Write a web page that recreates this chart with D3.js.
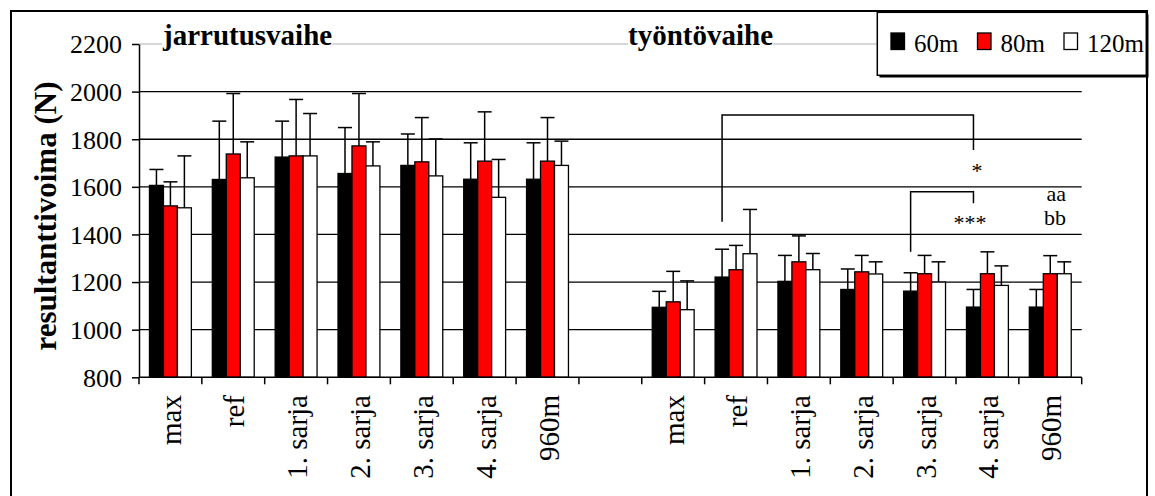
<!DOCTYPE html>
<html>
<head>
<meta charset="utf-8">
<script src="https://cdn.jsdelivr.net/npm/d3@7"></script>
<style>
  html, body { margin: 0; padding: 0; background: #fff; }
  svg { display: block; }
  svg text { font-family: "Liberation Serif", "Times New Roman", serif; }
</style>
</head>
<body>
<svg id="chart" width="1155" height="496"></svg>
<script>
// Categories of each phase
const categories = ["max", "ref", "1. sarja", "2. sarja", "3. sarja", "4. sarja", "960m"];
const phases = ["jarrutusvaihe", "työntövaihe"];
const seriesNames = ["60m", "80m", "120m"];
const seriesColors = ["#000000", "#ff0000", "#ffffff"];

// Means (N) – braking phase
const brake60 = [1606, 1631, 1725, 1656, 1690, 1632, 1632];
const brake80 = [1520, 1738, 1730, 1772, 1705, 1708, 1708];
const brake120 = [1512, 1638, 1730, 1688, 1646, 1556, 1690];
// Standard deviations – braking phase
const brakeSd60 = [67, 245, 151, 193, 132, 153, 153];
const brakeSd80 = [101, 254, 237, 220, 186, 207, 183];
const brakeSd120 = [218, 151, 178, 101, 155, 159, 102];

// Means (N) – push-off phase
const push60 = [1094, 1221, 1203, 1169, 1162, 1095, 1095];
const push80 = [1117, 1252, 1285, 1243, 1235, 1235, 1235];
const push120 = [1084, 1319, 1252, 1234, 1200, 1186, 1235];
// Standard deviations – push-off phase
const pushSd60 = [67, 117, 109, 86, 77, 74, 74];
const pushSd80 = [128, 102, 109, 69, 77, 92, 76];
const pushSd120 = [121, 186, 68, 51, 85, 82, 50];

// Y axis ticks
const yTicks = [800, 1000, 1200, 1400, 1600, 1800, 2000, 2200];
const yTitle = "resultanttivoima (N)";

// Significance markers
const starLabels = ["*", "***"];
const sideNotes = ["aa", "bb"];

(function draw() {
  const FONT = "Liberation Serif, Times New Roman, serif";

  // slot list: 7 categories + empty gap + 7 categories
  const slots = [];
  categories.forEach((c, i) => slots.push({ key: "b" + i, label: c, phase: 0, idx: i }));
  slots.push({ key: "gap", label: "", phase: -1, idx: -1 });
  categories.forEach((c, i) => slots.push({ key: "p" + i, label: c, phase: 1, idx: i }));

  const means = [[brake60, brake80, brake120], [push60, push80, push120]];
  const sds = [[brakeSd60, brakeSd80, brakeSd120], [pushSd60, pushSd80, pushSd120]];

  const rows = [];
  slots.forEach(s => {
    if (s.phase < 0) return;
    seriesNames.forEach((name, k) => {
      rows.push({ slot: s.key, series: name, k,
        value: means[s.phase][k][s.idx], sd: sds[s.phase][k][s.idx] });
    });
  });

  const svg = d3.select("#chart");

  const plotL = 139, plotR = 1081.7, plotT = 44, plotB = 377.3;
  const x = d3.scaleBand().domain(slots.map(s => s.key)).range([plotL, plotR]).padding(0);
  const xs = d3.scaleBand().domain(seriesNames).range([0, x.bandwidth()])
    .paddingInner(0).paddingOuter(0.75);
  const y = d3.scaleLinear().domain([800, 2200]).range([plotB, plotT]);

  // outer frame
  svg.append("rect").attr("x", 11).attr("y", 11).attr("width", 1136).attr("height", 500)
    .attr("fill", "none").attr("stroke", "#000").attr("stroke-width", 2);

  // gridlines
  svg.append("g").selectAll("line").data(yTicks.filter(t => t > 800)).join("line")
    .attr("x1", plotL).attr("x2", plotR)
    .attr("y1", d => y(d)).attr("y2", d => y(d))
    .attr("stroke", d => d === 2200 ? "#b0b0b0" : "#000")
    .attr("stroke-width", d => d === 2200 ? 1 : 1.3);

  // bars
  svg.append("g").selectAll("rect").data(rows).join("rect")
    .attr("x", d => x(d.slot) + xs(d.series))
    .attr("width", xs.bandwidth())
    .attr("y", d => y(d.value))
    .attr("height", d => y(800) - y(d.value))
    .attr("fill", d => seriesColors[d.k])
    .attr("stroke", "#000").attr("stroke-width", 1.3);

  // error bars (upper side)
  const errG = svg.append("g").attr("stroke", "#000").attr("stroke-width", 1.5);
  rows.forEach(d => {
    const cx = x(d.slot) + xs(d.series) + xs.bandwidth() / 2;
    const w = xs.bandwidth() / 2;
    errG.append("line").attr("x1", cx).attr("x2", cx)
      .attr("y1", y(d.value)).attr("y2", y(d.value + d.sd));
    errG.append("line").attr("x1", cx - w).attr("x2", cx + w)
      .attr("y1", y(d.value + d.sd)).attr("y2", y(d.value + d.sd));
  });

  // y axis
  const yAxis = svg.append("g").attr("transform", `translate(${plotL},0)`)
    .call(d3.axisLeft(y).tickValues(yTicks).tickFormat(d3.format("d"))
      .tickSize(7).tickPadding(10).tickSizeOuter(0));
  yAxis.attr("font-family", FONT);
  yAxis.select(".domain").attr("stroke", "#000").attr("stroke-width", 1.5);
  yAxis.selectAll(".tick line").attr("stroke", "#000").attr("stroke-width", 1.5);
  yAxis.selectAll(".tick text").attr("font-size", 26).attr("fill", "#000")
    .attr("font-family", FONT).attr("dy", "0.34em");

  // x axis line and boundary ticks
  const xAxisG = svg.append("g");
  xAxisG.append("line").attr("x1", plotL).attr("x2", plotR)
    .attr("y1", plotB).attr("y2", plotB).attr("stroke", "#000").attr("stroke-width", 1.5);
  const bounds = slots.map(s => x(s.key)).concat([x(slots[slots.length - 1].key) + x.bandwidth()]);
  xAxisG.selectAll("line.tk").data(bounds).join("line").attr("class", "tk")
    .attr("x1", d => d).attr("x2", d => d).attr("y1", plotB).attr("y2", plotB + 7)
    .attr("stroke", "#000").attr("stroke-width", 1.5);
  xAxisG.selectAll("text").data(slots.filter(s => s.label)).join("text")
    .attr("transform", s => `translate(${x(s.key) + x.bandwidth() / 2 + 11},395) rotate(-90)`)
    .attr("text-anchor", "end").attr("font-size", 29).attr("fill", "#000")
    .attr("font-family", FONT)
    .text(s => s.label);

  // y title
  svg.append("text")
    .attr("transform", "translate(56,216) rotate(-90)")
    .attr("text-anchor", "middle").attr("font-size", 31).attr("font-weight", "bold")
    .attr("font-family", FONT)
    .text(yTitle);

  // phase titles with white backing
  const titlePos = [163, 628];
  const titleG = svg.append("g");
  phases.forEach((p, i) => {
    const t = titleG.append("text").attr("x", titlePos[i]).attr("y", 45)
      .attr("font-size", 29).attr("font-weight", "bold").attr("font-family", FONT).text(p);
    const bb = t.node().getBBox();
    titleG.insert("rect", () => t.node()).attr("x", bb.x).attr("y", bb.y + 4)
      .attr("width", bb.width).attr("height", bb.height - 8).attr("fill", "#fff");
  });

  // significance brackets, anchored to bar centres
  const annG = svg.append("g").attr("stroke", "#000").attr("stroke-width", 1.5).attr("fill", "none");
  const xb = (si, k) => x(slots[si].key) + xs(seriesNames[k]) + xs.bandwidth() / 2;
  const ann = [
    { x1: xb(9, 0), x2: xb(13, 0), yTop: 115, yL: 221.7, yR: 150, lx: 977, ly: 178 },
    { x1: xb(12, 0), x2: xb(13, 0), yTop: 191.7, yL: 251.7, yR: 203.3, lx: 970, ly: 230 }
  ];
  ann.forEach((a, i) => {
    annG.append("path").attr("d", `M${a.x1},${a.yL}V${a.yTop}H${a.x2}V${a.yR}`);
    svg.append("text").attr("x", a.lx).attr("y", a.ly).attr("text-anchor", "middle")
      .attr("font-size", 22).attr("font-family", FONT).text(starLabels[i]);
  });
  sideNotes.forEach((n, i) => {
    svg.append("text").attr("x", 1066).attr("y", 200.7 + i * 24.3).attr("text-anchor", "end")
      .attr("font-size", 22).attr("font-family", FONT).text(n);
  });

  // legend
  const lg = svg.append("g");
  lg.append("rect").attr("x", 879.5).attr("y", 14.5).attr("width", 269).attr("height", 63)
    .attr("fill", "#000");
  lg.append("rect").attr("x", 877.3).attr("y", 12.3).attr("width", 269).attr("height", 63)
    .attr("fill", "#fff").attr("stroke", "#000").attr("stroke-width", 1.5);
  const legX = [891, 977.5, 1064];
  seriesNames.forEach((n, k) => {
    lg.append("rect").attr("x", legX[k]).attr("y", 33).attr("width", 13.5).attr("height", 16.5)
      .attr("fill", seriesColors[k]).attr("stroke", "#000").attr("stroke-width", 1.3);
    lg.append("text").attr("x", legX[k] + 23).attr("y", 51.5).attr("font-size", 25)
      .attr("font-family", FONT).text(n);
  });
})();
</script>
</body>
</html>
